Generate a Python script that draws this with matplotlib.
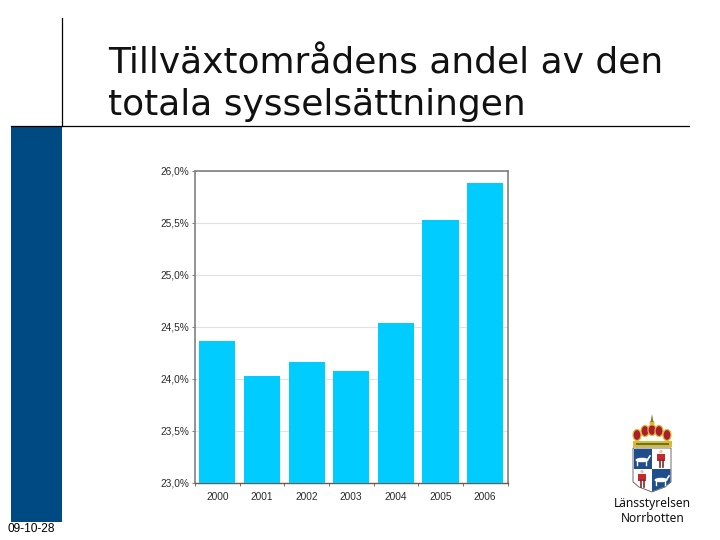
# -*- coding: utf-8 -*-
import matplotlib
matplotlib.use("Agg")
import matplotlib.pyplot as plt
from matplotlib.patches import Rectangle, Polygon, Ellipse, Circle

years = ["2000", "2001", "2002", "2003", "2004", "2005", "2006"]
shares = [24.36, 24.03, 24.16, 24.07, 24.54, 25.53, 25.88]
y_ticks = [23.0, 23.5, 24.0, 24.5, 25.0, 25.5, 26.0]
y_labels = ["23,0%", "23,5%", "24,0%", "24,5%", "25,0%", "25,5%", "26,0%"]
title_lines = ["Tillväxtområdens andel av den", "totala sysselsättningen"]
date_text = "09-10-28"
logo_lines = ["Länsstyrelsen", "Norrbotten"]

W, H = 720, 540
BLUE = "#004A83"
RED = "#C8282D"
GOLD = "#E0B830"
SHIELD_BLUE = "#1F4E8C"

fig = plt.figure(figsize=(7.2, 5.4), dpi=100, facecolor="white")

# slide background, in pixel coordinates
bg = fig.add_axes([0, 0, 1, 1])
bg.set_xlim(0, W)
bg.set_ylim(H, 0)
bg.axis("off")
bg.add_patch(Rectangle((11, 126), 51, 396, fc=BLUE, ec="none"))
bg.plot([62, 62], [18, 126], color="black", lw=0.9)
bg.plot([11, 689], [126, 126], color="black", lw=0.9)
bg.text(108, 73, title_lines[0], fontsize=25.9, family="DejaVu Sans", va="baseline", color="#111111")
bg.text(108, 115, title_lines[1], fontsize=25.9, family="DejaVu Sans", va="baseline", color="#111111")
bg.text(7, 529, date_text, fontsize=8.6, family="Liberation Sans", va="center", color="black")


def draw_man(cx, top):
    bg.add_patch(Circle((cx, top + 1.5), 1.7, fc="#E8C8A0", ec="none", zorder=4))
    bg.add_patch(Rectangle((cx - 4, top + 3.5), 8, 7, fc=RED, ec="none", zorder=4))
    bg.plot([cx - 1.5, cx - 1.5], [top + 10, top + 17], color="#7A2A2A", lw=1.2, zorder=4)
    bg.plot([cx + 1.5, cx + 1.5], [top + 10, top + 17], color="#7A2A2A", lw=1.2, zorder=4)


def draw_animal(cx, cy):
    bg.add_patch(Ellipse((cx, cy), 13, 4.5, fc="white", ec="none", zorder=4))
    bg.plot([cx - 5, cx - 5], [cy, cy + 5], color="white", lw=1, zorder=4)
    bg.plot([cx + 4, cx + 4], [cy, cy + 5], color="white", lw=1, zorder=4)
    bg.plot([cx + 6, cx + 8], [cy - 1, cy - 4], color="white", lw=1.2, zorder=4)


# coat of arms, drawn roughly
bg.add_patch(Polygon([(633, 448), (671, 448), (671, 482), (665, 487), (652, 492), (639, 487), (633, 482)],
                     closed=True, fc="white", ec="#555555", lw=0.6))
bg.add_patch(Polygon([(633.5, 448.5), (652, 448.5), (652, 469), (633.5, 469)], fc=SHIELD_BLUE, ec="none"))
bg.add_patch(Polygon([(652, 469), (670.5, 469), (670.5, 482), (665, 486.5), (652, 491.5)], fc=SHIELD_BLUE, ec="none"))
draw_animal(642, 460)
draw_animal(661, 480)
draw_man(661, 450)
draw_man(642, 470)
# crown
bg.add_patch(Rectangle((633, 441), 39, 6, fc=GOLD, ec="none"))
bg.add_patch(Rectangle((636, 443), 33, 1.5, fc="#5A7A30", ec="none", zorder=4))
for bulb_x, bulb_y in zip([637, 645, 652, 659, 667], [435, 431, 430, 431, 435]):
    bg.add_patch(Ellipse((bulb_x, bulb_y), 8, 11, fc="#A81E2E", ec=GOLD, lw=0.9))
bg.add_patch(Circle((652, 423), 2.5, fc=GOLD, ec="none"))
bg.add_patch(Polygon([(650.5, 422), (652, 414), (653.5, 422)], fc="#8A7A30", ec="none"))
bg.text(652.5, 504, logo_lines[0], fontsize=8.6, family="Noto Sans", ha="center", va="center", color="#111111")
bg.text(652.5, 518, logo_lines[1], fontsize=8.6, family="Noto Sans", ha="center", va="center", color="#111111")

# bar chart
ax = fig.add_axes([195 / W, 1 - 482.5 / H, 312.5 / W, 311.5 / H])
x = list(range(len(years)))
ax.bar(x, shares, width=0.81, color="#00CCFF", zorder=3)
ax.set_xlim(-0.5, 6.5)
ax.set_ylim(23, 26)
ax.set_yticks(y_ticks)
ax.set_yticklabels(y_labels, fontsize=7.3, family="Liberation Sans", color="#2A2A2A")
ax.set_xticks(x)
ax.set_xticklabels(years, fontsize=7.3, family="Liberation Sans", color="#2A2A2A")
ax.set_xticks([i + 0.5 for i in range(-1, 7)], minor=True)
ax.tick_params(axis="x", which="major", length=0, pad=7)
ax.tick_params(axis="x", which="minor", length=2, color="#8A6A50", width=0.7)
ax.tick_params(axis="y", length=2, color="#808080", width=0.7, pad=2)
ax.grid(axis="y", color="#E2E2E2", lw=0.8, zorder=0)
ax.set_axisbelow(True)
for side in ["top", "left", "right"]:
    ax.spines[side].set_color("#808080")
    ax.spines[side].set_linewidth(1.2)
ax.spines["bottom"].set_color("#6E5A4A")
ax.spines["bottom"].set_linewidth(1.0)

fig.savefig("out.png", dpi=100)
